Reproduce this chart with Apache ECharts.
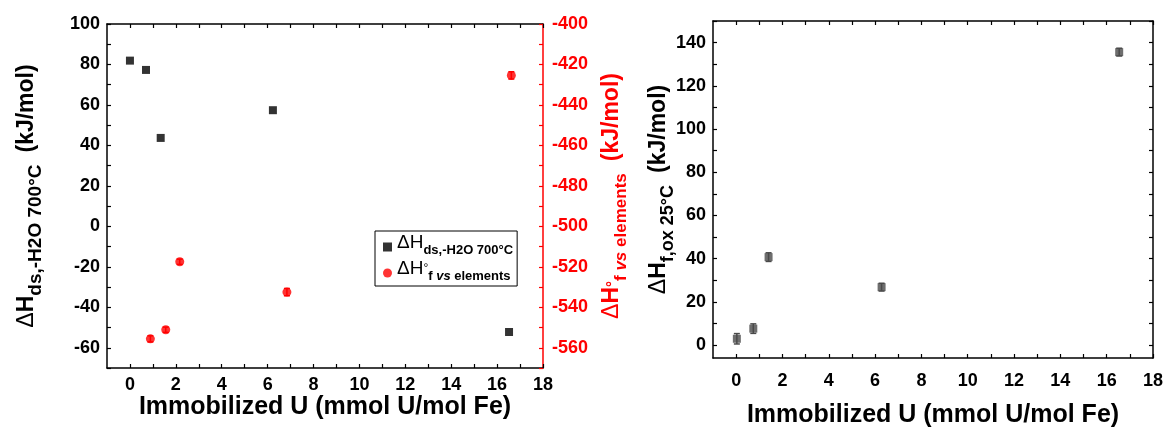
<!DOCTYPE html>
<html>
<head>
<meta charset="utf-8">
<script src="https://cdn.jsdelivr.net/npm/echarts@6/dist/echarts.min.js"></script>
<style>html,body{margin:0;padding:0;background:#fff;}#c{width:1167px;height:430px;}</style>
</head>
<body>
<div id="c"></div>
<script>
// ---- Data ----
const dsX = [0, 0.70, 1.34, 6.23, 16.52];
const dsY = [81.9, 77.3, 43.7, 57.4, -52.2];

const hfX = [0.89, 1.56, 2.17, 6.84, 16.62];
const hfY = [-555.6, -551.1, -517.5, -532.5, -425.4];
const hfErr = [1.5, 1.3, 1.3, 1.8, 1.8];

const oxX = [0.03, 0.74, 1.40, 6.28, 16.54];
const oxY = [2.9, 7.6, 40.7, 26.8, 135.6];
const oxErr = [2.4, 2.2, 2.0, 1.8, 1.8];

const xTicks = [0,1,2,3,4,5,6,7,8,9,10,11,12,13,14,15,16,17,18];
const xLabels = [0,2,4,6,8,10,12,14,16,18];
const leftYTicks = [-70,-60,-50,-40,-30,-20,-10,0,10,20,30,40,50,60,70,80,90,100];
const leftYLabels = [-60,-40,-20,0,20,40,60,80,100];
const redYTicks = [-570,-560,-550,-540,-530,-520,-510,-500,-490,-480,-470,-460,-450,-440,-430,-420,-410,-400];
const redYLabels = [-560,-540,-520,-500,-480,-460,-440,-420,-400];
const oxYTicks = [0,10,20,30,40,50,60,70,80,90,100,110,120,130,140,150];
const oxYLabels = [0,20,40,60,80,100,120,140];

const FONT = '"Liberation Sans", Arial, sans-serif';
const chart = echarts.init(document.getElementById('c'));

function pairs(xs, ys) { return xs.map((x, i) => [x, ys[i]]); }
function errData(xs, ys, es) { return xs.map((x, i) => [x, ys[i], es[i]]); }

function errorBar(color) {
  return function (params, api) {
    const x = api.value(0), y = api.value(1), e = api.value(2);
    const lo = api.coord([x, y - e]);
    const hi = api.coord([x, y + e]);
    const w = 3;
    const style = { stroke: color, lineWidth: 1.5 };
    return {
      type: 'group',
      children: [
        { type: 'line', shape: { x1: lo[0], y1: lo[1], x2: hi[0], y2: hi[1] }, style },
        { type: 'line', shape: { x1: lo[0] - w, y1: lo[1], x2: lo[0] + w, y2: lo[1] }, style },
        { type: 'line', shape: { x1: hi[0] - w, y1: hi[1], x2: hi[0] + w, y2: hi[1] }, style }
      ]
    };
  };
}

const lbl = { fontFamily: FONT, fontWeight: 'bold', fontSize: 18, color: '#000' };

function xAxisBottom(grid, margin, nameGap) {
  return {
    type: 'value', gridIndex: grid, position: 'bottom', min: -1, max: 18,
    axisLine: { show: true, onZero: false, lineStyle: { color: '#000', width: 1.5 } },
    axisTick: { show: true, inside: true, length: 4, customValues: xTicks, lineStyle: { color: '#000', width: 1.2 } },
    axisLabel: Object.assign({ margin: margin, customValues: xLabels }, lbl),
    splitLine: { show: false },
    name: 'Immobilized U (mmol U/mol Fe)', nameLocation: 'middle', nameGap: nameGap, nameMoveOverlap: false,
    nameTextStyle: { fontFamily: FONT, fontWeight: 'bold', fontSize: 25, color: '#000' }
  };
}
function xAxisTop(grid) {
  return {
    type: 'value', gridIndex: grid, position: 'top', min: -1, max: 18,
    axisLine: { show: true, onZero: false, lineStyle: { color: '#000', width: 1.5 } },
    axisTick: { show: true, inside: true, length: 4, customValues: xTicks, lineStyle: { color: '#000', width: 1.2 } },
    axisLabel: { show: false }, splitLine: { show: false }
  };
}

function richSet(color, mainSize, subSize) {
  const main = { fontFamily: FONT, fontWeight: 'bold', fontSize: mainSize, lineHeight: mainSize + 2, verticalAlign: 'bottom', padding: [0, 0, 7, 0], color };
  const sub = { fontFamily: FONT, fontWeight: 'bold', fontSize: subSize, lineHeight: subSize + 2, verticalAlign: 'bottom', color };
  return {
    m: main,
    d: Object.assign({}, main, { fontWeight: 'normal' }),
    s: sub,
    si: Object.assign({}, sub, { fontStyle: 'italic' }),
    sp: { fontFamily: FONT, fontWeight: 'bold', fontSize: 15, lineHeight: 16, verticalAlign: 'top', color },
    g: Object.assign({}, main, { padding: [0, 0, 7, 12] })
  };
}

const option = {
  backgroundColor: '#fff',
  animation: false,
  grid: [
    { left: 107, top: 24, width: 436, height: 344, outerBoundsMode: 'none' },
    { left: 713, top: 21, width: 440, height: 337, outerBoundsMode: 'none' }
  ],
  legend: {
    show: true,
    left: 375, top: 231,
    orient: 'vertical',
    backgroundColor: '#fff',
    borderColor: '#000', borderWidth: 1, borderRadius: 0,
    padding: [2, 4, 3, 8],
    itemGap: 2,
    itemWidth: 9, itemHeight: 9,
    data: [
      { name: 'ds', icon: 'rect', itemStyle: { color: '#000' } },
      { name: 'hf', icon: 'circle', itemStyle: { color: '#ff0000' } }
    ],
    formatter: function (name) {
      if (name === 'ds') return '{lm|ΔH}{ls|ds,-H2O 700°C}';
      return '{lm|ΔH}{lsp|°}{ls|f }{lsi|vs}{ls| elements}';
    },
    textStyle: {
      rich: {
        lm: { fontFamily: FONT, fontSize: 19, lineHeight: 20, color: '#000', verticalAlign: 'bottom', padding: [0, 0, 5, 0] },
        ls: { fontFamily: FONT, fontWeight: 'bold', fontSize: 13, lineHeight: 14, color: '#000', verticalAlign: 'bottom' },
        lsi: { fontFamily: FONT, fontWeight: 'bold', fontStyle: 'italic', fontSize: 13, lineHeight: 14, color: '#000', verticalAlign: 'bottom' },
        lsp: { fontFamily: FONT, fontSize: 12, lineHeight: 12, color: '#000', verticalAlign: 'top' }
      }
    }
  },
  xAxis: [
    xAxisBottom(0, 8, 27),
    xAxisTop(0),
    xAxisBottom(1, 14, 45),
    xAxisTop(1)
  ],
  yAxis: [
    {
      type: 'value', gridIndex: 0, position: 'left', min: -70, max: 100,
      axisLine: { show: true, onZero: false, lineStyle: { color: '#000', width: 1.5 } },
      axisTick: { show: true, inside: true, length: 4, customValues: leftYTicks, lineStyle: { color: '#000', width: 1.2 } },
      axisLabel: Object.assign({ margin: 7, customValues: leftYLabels }, lbl),
      splitLine: { show: false },
      name: '{d|Δ}{m|H}{s|ds,-H2O 700°C}{g|(kJ/mol)}', nameLocation: 'middle', nameRotate: 90, nameGap: 62, nameMoveOverlap: false,
      nameTextStyle: { rich: richSet('#000', 23, 19) }
    },
    {
      type: 'value', gridIndex: 0, position: 'right', min: -570, max: -400,
      axisLine: { show: true, onZero: false, lineStyle: { color: '#ff0000', width: 1.5 } },
      axisTick: { show: true, inside: true, length: 4, customValues: redYTicks, lineStyle: { color: '#ff0000', width: 1.2 } },
      axisLabel: Object.assign({ margin: 9, customValues: redYLabels }, lbl, { color: '#ff0000' }),
      splitLine: { show: false },
      name: '{d|Δ}{m|H}{sp|°}{s|f }{si|vs}{s| elements}{g|(kJ/mol)}', nameLocation: 'middle', nameRotate: 90, nameGap: 62, nameMoveOverlap: false,
      nameTextStyle: { rich: richSet('#ff0000', 23, 17) }
    },
    {
      type: 'value', gridIndex: 1, position: 'left', min: -6, max: 150,
      axisLine: { show: true, onZero: false, lineStyle: { color: '#000', width: 1.5 } },
      axisTick: { show: true, inside: true, length: 4, customValues: oxYTicks, lineStyle: { color: '#000', width: 1.2 } },
      axisLabel: Object.assign({ margin: 7, customValues: oxYLabels }, lbl),
      splitLine: { show: false },
      name: '{d|Δ}{m|H}{s|f,ox 25°C}{g|(kJ/mol)}', nameLocation: 'middle', nameRotate: 90, nameGap: 36, nameMoveOverlap: false,
      nameTextStyle: { rich: richSet('#000', 23, 18) }
    },
    {
      type: 'value', gridIndex: 1, position: 'right', min: -6, max: 150,
      axisLine: { show: true, onZero: false, lineStyle: { color: '#000', width: 1.5 } },
      axisTick: { show: true, inside: true, length: 4, customValues: oxYTicks, lineStyle: { color: '#000', width: 1.2 } },
      axisLabel: { show: false }, splitLine: { show: false }
    }
  ],
  series: [
    {
      name: 'ds', type: 'scatter', xAxisIndex: 0, yAxisIndex: 0,
      symbol: 'rect', symbolSize: 8, itemStyle: { color: '#000' },
      data: pairs(dsX, dsY)
    },
    {
      name: 'hf-err', type: 'custom', xAxisIndex: 0, yAxisIndex: 1,
      renderItem: errorBar('#ff0000'), data: errData(hfX, hfY, hfErr), z: 2
    },
    {
      name: 'hf', type: 'scatter', xAxisIndex: 0, yAxisIndex: 1,
      symbol: 'circle', symbolSize: 9, itemStyle: { color: '#ff0000' },
      data: pairs(hfX, hfY), z: 3
    },
    {
      name: 'ox-err', type: 'custom', xAxisIndex: 2, yAxisIndex: 2,
      renderItem: errorBar('#4a4a4a'), data: errData(oxX, oxY, oxErr), z: 2
    },
    {
      name: 'ox', type: 'scatter', xAxisIndex: 2, yAxisIndex: 2,
      symbol: 'rect', symbolSize: 8, itemStyle: { color: '#4a4a4a' },
      data: pairs(oxX, oxY), z: 3
    }
  ]
};
chart.setOption(option);
</script>
</body>
</html>
